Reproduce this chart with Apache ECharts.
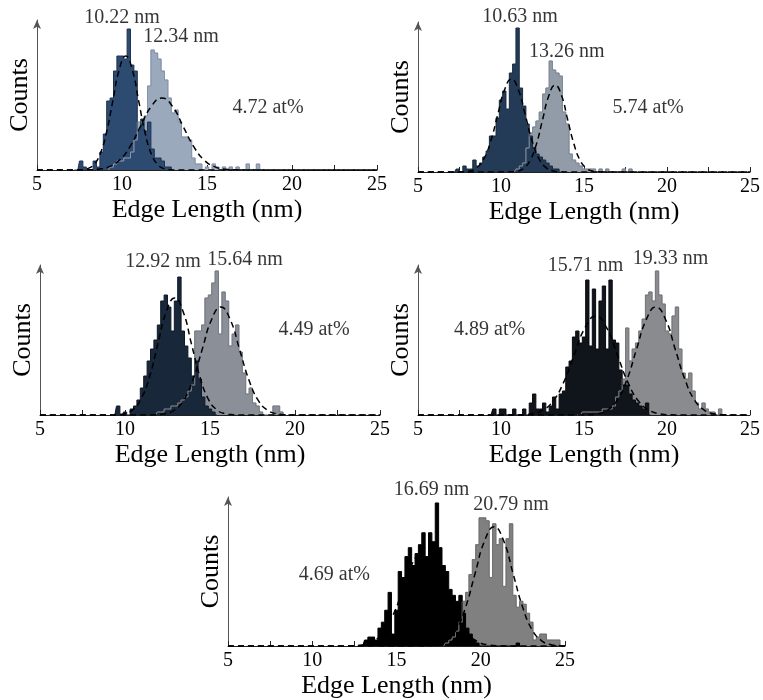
<!DOCTYPE html>
<html>
<head>
<meta charset="utf-8">
<title>Edge length distributions</title>
<script src="https://cdn.jsdelivr.net/npm/echarts@6/dist/echarts.min.js"></script>
<style>
  html, body { margin: 0; padding: 0; background: #fff; }
  #chart { width: 763px; height: 700px; }
</style>
</head>
<body>
<div id="chart"></div>
<script>
// Histogram bin width (nm); counts are listed bin by bin from each start centre.
const BIN = 0.2;
const xTicks = [5, 10, 15, 20, 25];

// ---- 4.72 at% ----
const p1DarkStart = 7.4;
const p1Dark = [0,3,1,0,0,3,1,6,12,23,24,33,38,38,37,47,35,33,13,17,13,16,7,4,4,3,1,1];
const p1LightStart = 9.4;
const p1Light = [1,2,3,3,4,4,6,10,16,16,18,28,40,39,37,33,30,24,19,20,16,11,11,10,4,2,2,0,1,0,2,1,0,1,0,1,0,1,0,0,2,0,0,2];
const p1FitDark = [[5,0],[7.18,0.01],[7.56,0.08],[7.94,0.42],[8.32,1.67],[8.70,5.14],[9.08,12.34],[9.46,23.05],[9.84,33.54],[10.22,38],[10.60,33.54],[10.98,23.05],[11.36,12.34],[11.74,5.14],[12.12,1.67],[12.50,0.42],[12.88,0.08],[13.26,0.01],[25,0]];
const p1FitLight = [[5,0],[7.34,0.01],[7.97,0.05],[8.59,0.27],[9.22,1.05],[9.84,3.25],[10.47,7.79],[11.09,14.56],[11.72,21.18],[12.34,24],[12.97,21.18],[13.59,14.56],[14.22,7.79],[14.84,3.25],[15.47,1.05],[16.09,0.27],[16.72,0.05],[17.34,0.01],[25,0]];
const p1Means = [10.22, 12.34];
const p1Conc = 4.72;

// ---- 5.74 at% ----
const p2DarkStart = 7.4;
const p2Dark = [1,0,2,1,1,4,2,3,5,7,12,12,18,24,27,21,33,36,48,28,22,16,12,8,6,5,4,3,2,1,1];
const p2LightStart = 11.0;
const p2Light = [1,2,3,8,13,15,17,20,26,28,37,34,33,32,20,16,6,4,3,2,1,1,1,1,0,1,0,1,0,0,0,0,1,0,1];
const p2FitDark = [[5,0],[7.27,0.01],[7.69,0.07],[8.11,0.34],[8.53,1.36],[8.95,4.19],[9.37,10.07],[9.79,18.80],[10.21,27.36],[10.63,31],[11.05,27.36],[11.47,18.80],[11.89,10.07],[12.31,4.19],[12.73,1.36],[13.15,0.34],[13.57,0.07],[13.99,0.01],[25,0]];
const p2FitLight = [[5,0],[10.26,0.01],[10.64,0.06],[11.01,0.32],[11.39,1.27],[11.76,3.92],[12.14,9.42],[12.51,17.59],[12.89,25.59],[13.26,29],[13.64,25.59],[14.01,17.59],[14.39,9.42],[14.76,3.92],[15.14,1.27],[15.51,0.32],[15.89,0.06],[16.26,0.01],[25,0]];
const p2Means = [10.63, 13.26];
const p2Conc = 5.74;

// ---- 4.49 at% ----
const p3DarkStart = 9.6;
const p3Dark = [3,0,1,0,2,3,5,9,13,18,22,25,30,38,40,36,28,38,46,28,23,19,13,18,12,6,3,2,1];
const p3LightStart = 12.0;
const p3Light = [1,1,2,2,3,3,4,5,6,8,10,28,28,30,39,40,44,48,27,41,38,23,27,30,21,14,7,9,4,3,1,0,0,0,3,3,1];
const p3FitDark = [[5,0],[8.96,0.01],[9.46,0.09],[9.95,0.43],[10.45,1.71],[10.94,5.28],[11.44,12.66],[11.93,23.65],[12.43,34.42],[12.92,39],[13.42,34.42],[13.91,23.65],[14.41,12.66],[14.90,5.28],[15.40,1.71],[15.89,0.43],[16.39,0.09],[16.88,0.01],[25,0]];
const p3FitLight = [[5,0],[11.24,0.01],[11.79,0.08],[12.34,0.40],[12.89,1.58],[13.44,4.87],[13.99,11.69],[14.54,21.83],[15.09,31.77],[15.64,36],[16.19,31.77],[16.74,21.83],[17.29,11.69],[17.84,4.87],[18.39,1.58],[18.94,0.40],[19.49,0.08],[20.04,0.01],[25,0]];
const p3Means = [12.92, 15.64];
const p3Conc = 4.49;

// ---- 4.89 at% ----
const p4DarkStart = 9.6;
const p4Dark = [2,0,2,2,0,0,2,0,0,2,0,4,7,2,2,4,1,3,6,2,7,8,16,18,26,28,24,26,45,23,42,22,38,43,22,45,25,24,15,10,10,7,5,4,3,2,4];
const p4LightStart = 14.8;
const p4Light = [0,1,1,1,1,1,1,2,2,2,3,6,8,12,29,18,22,24,28,32,40,41,38,48,40,37,28,27,33,36,22,14,12,14,8,4,2,4,2,1,1,0,2];
const p4FitDark = [[5,0],[10.51,0.01],[11.16,0.07],[11.81,0.37],[12.46,1.45],[13.11,4.47],[13.76,10.72],[14.41,20.01],[15.06,29.12],[15.71,33],[16.36,29.12],[17.01,20.01],[17.66,10.72],[18.31,4.47],[18.96,1.45],[19.61,0.37],[20.26,0.07],[20.91,0.01],[25,0]];
const p4FitLight = [[5,0],[14.65,0.01],[15.24,0.08],[15.82,0.40],[16.41,1.58],[16.99,4.87],[17.58,11.69],[18.16,21.83],[18.75,31.77],[19.33,36],[19.92,31.77],[20.50,21.83],[21.09,11.69],[21.67,4.87],[22.26,1.58],[22.84,0.40],[23.43,0.08],[24.01,0.01],[25,0]];
const p4Means = [15.71, 19.33];
const p4Conc = 4.89;

// ---- 4.69 at% ----
const p5DarkStart = 13.0;
const p5Dark = [0,2,3,3,2,6,8,12,18,4,12,25,23,30,33,27,31,34,38,30,38,35,48,33,27,25,19,17,15,17,11,6,4,2,1,0,0,0,0,0,0,0,0,0,0,0,1];
const p5LightStart = 18.0;
const p5Light = [1,2,3,5,8,15,18,24,29,34,43,43,42,23,41,34,36,20,36,41,17,13,15,14,11,8,2,3,4,4,2,2,2,2];
const p5FitDark = [[5,0],[11.69,0.01],[12.32,0.07],[12.94,0.37],[13.57,1.45],[14.19,4.47],[14.82,10.72],[15.44,20.01],[16.07,29.12],[16.69,33],[17.32,29.12],[17.94,20.01],[18.57,10.72],[19.19,4.47],[19.82,1.45],[20.44,0.37],[21.07,0.07],[21.69,0.01],[25,0]];
const p5FitLight = [[5,0],[16.27,0.01],[16.84,0.09],[17.40,0.44],[17.97,1.75],[18.53,5.41],[19.10,12.99],[19.66,24.26],[20.23,35.30],[20.79,40],[21.36,35.30],[21.92,24.26],[22.49,12.99],[23.05,5.41],[23.62,1.75],[24.18,0.44],[24.75,0.09],[25,0.03]];
const p5Means = [16.69, 20.79];
const p5Conc = 4.69;

// ---- layout and styling ----
const FONT = '"Liberation Serif", "DejaVu Serif", serif';
const INK = '#000';
const panels = [
  { grid: { left: 37,  top: 20,  width: 340, height: 150 },
    dark: [p1DarkStart, p1Dark], light: [p1LightStart, p1Light], fits: [p1FitDark, p1FitLight],
    means: p1Means, conc: p1Conc, labelAt: [[10.0, 50.7], [13.47, 44.3], [18.59, 20.7]],
    colors: { dark: '#2d4b70', darkLine: '#1d3352', light: '#9ba9bc', lightLine: '#8593a8' } },
  { grid: { left: 418, top: 22,  width: 339, height: 150 },
    dark: [p2DarkStart, p2Dark], light: [p2LightStart, p2Light], fits: [p2FitDark, p2FitLight],
    means: p2Means, conc: p2Conc, labelAt: [[11.14, 51.7], [13.97, 40], [18.86, 21.3]],
    colors: { dark: '#243b57', darkLine: '#172a40', light: '#929ca9', lightLine: '#7e8896' } },
  { grid: { left: 40,  top: 265, width: 340, height: 150 },
    dark: [p3DarkStart, p3Dark], light: [p3LightStart, p3Light], fits: [p3FitDark, p3FitLight],
    means: p3Means, conc: p3Conc, labelAt: [[12.24, 51], [17.06, 51.7], [21.12, 28.3]],
    colors: { dark: '#19273a', darkLine: '#0f1a28', light: '#8b9098', lightLine: '#777c84' } },
  { grid: { left: 418, top: 265, width: 339, height: 150 },
    dark: [p4DarkStart, p4Dark], light: [p4LightStart, p4Light], fits: [p4FitDark, p4FitLight],
    means: p4Means, conc: p4Conc, labelAt: [[15.09, 49.7], [20.22, 52], [9.31, 28.3]],
    colors: { dark: '#10151c', darkLine: '#080b10', light: '#8a8b8e', lightLine: '#77787b' } },
  { grid: { left: 228, top: 497, width: 337, height: 150 },
    dark: [p5DarkStart, p5Dark], light: [p5LightStart, p5Light], fits: [p5FitDark, p5FitLight],
    means: p5Means, conc: p5Conc, labelAt: [[17.08, 52.3], [21.79, 47.3], [11.31, 24]],
    colors: { dark: '#000000', darkLine: '#000000', light: '#808080', lightLine: '#707070' } }
];

// Turn a run of bin counts into [centre, count] pairs, closed by empty bins at both ends.
function binPairs(start, counts) {
  const pts = [[+(start - BIN).toFixed(2), 0]];
  counts.forEach((c, i) => pts.push([+(start + i * BIN).toFixed(2), c]));
  pts.push([+(start + counts.length * BIN).toFixed(2), 0]);
  return pts;
}

const grids = [], xAxes = [], yAxes = [], series = [];

panels.forEach((p, i) => {
  grids.push(Object.assign({ containLabel: false }, p.grid));
  xAxes.push({
    gridIndex: i, type: 'value', min: 5, max: 25, interval: 2.5,
    axisLine: { lineStyle: { color: '#222', width: 1 } },
    axisTick: { inside: true, length: 5, lineStyle: { color: '#222', width: 1 } },
    axisLabel: {
      formatter: v => (xTicks.includes(v) ? String(v) : ''),
      fontFamily: FONT, fontSize: 20, color: INK, margin: 5
    },
    splitLine: { show: false },
    name: 'Edge Length (nm)', nameLocation: 'middle', nameGap: 27,
    nameTextStyle: { fontFamily: FONT, fontSize: 26, color: INK }
  });
  yAxes.push({
    gridIndex: i, type: 'value', min: 0, max: 50,
    axisLine: { show: true, symbol: ['none', 'arrow'], symbolSize: [6, 9],
                lineStyle: { color: '#555', width: 1 } },
    axisTick: { show: false }, axisLabel: { show: false }, splitLine: { show: false },
    name: 'Counts', nameLocation: 'middle', nameGap: 4,
    nameTextStyle: { fontFamily: FONT, fontSize: 26, color: INK }
  });

  const lightData = binPairs(p.light[0], p.light[1]);
  const darkData = binPairs(p.dark[0], p.dark[1]);
  const common = { xAxisIndex: i, yAxisIndex: i, type: 'line', step: 'middle',
                   symbol: 'none', silent: true, animation: false };

  // larger particles: filled step histogram behind
  series.push(Object.assign({}, common, {
    data: lightData,
    lineStyle: { color: p.colors.lightLine, width: 1 },
    areaStyle: { color: p.colors.light, opacity: 1 }
  }));
  // smaller particles: filled step histogram in front
  series.push(Object.assign({}, common, {
    data: darkData,
    lineStyle: { color: p.colors.darkLine, width: 1 },
    areaStyle: { color: p.colors.dark, opacity: 1 }
  }));
  // outline of the rear histogram, seen through the front one
  series.push(Object.assign({}, common, {
    data: lightData,
    lineStyle: { color: p.colors.lightLine, width: 1, opacity: 0.55 }
  }));
  // Gaussian fits, dashed
  p.fits.forEach(fit => {
    series.push({
      xAxisIndex: i, yAxisIndex: i, type: 'line', data: fit, smooth: 0.5,
      symbol: 'none', silent: true, animation: false,
      lineStyle: { color: '#000', width: 1.5, type: [6, 4] }
    });
  });
  // text annotations
  const texts = [p.means[0].toFixed(2) + ' nm', p.means[1].toFixed(2) + ' nm', p.conc.toFixed(2) + ' at%'];
  series.push({
    xAxisIndex: i, yAxisIndex: i, type: 'scatter', silent: true, animation: false, clip: false,
    symbolSize: 1, itemStyle: { color: 'rgba(0,0,0,0)' }, z: 10,
    data: texts.map((t, k) => ({ name: t, value: p.labelAt[k] })),
    label: { show: true, position: 'inside', formatter: '{b}', textBorderWidth: 0,
             fontFamily: FONT, fontSize: 20, color: INK }
  });
});

const chart = echarts.init(document.getElementById('chart'), null, { renderer: 'canvas' });
chart.setOption({
  backgroundColor: '#fff',
  animation: false,
  grid: grids, xAxis: xAxes, yAxis: yAxes, series: series
});
</script>
</body>
</html>
